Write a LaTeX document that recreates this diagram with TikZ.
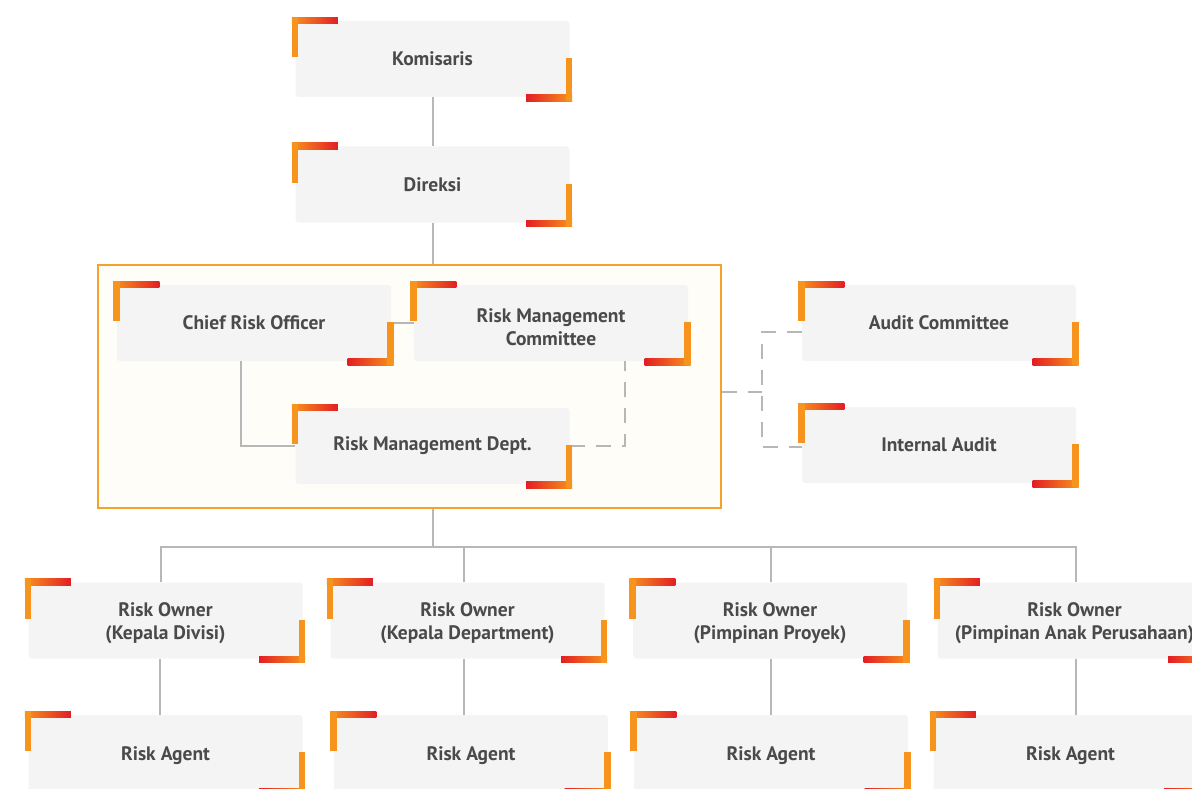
\documentclass[tikz,border=0pt]{standalone}
\usepackage{fontspec}
\setmainfont{PT Sans}
\definecolor{cOrange}{HTML}{F7941D}
\definecolor{cRed}{HTML}{E31E24}
\definecolor{boxGray}{HTML}{F4F4F4}
\definecolor{txtGray}{HTML}{4A4A4A}
\definecolor{lineGray}{HTML}{B7B7B7}
\definecolor{panelLine}{HTML}{F5A22A}
\definecolor{panelFill}{HTML}{FFFDF8}

\newcommand{\corners}[1]{%
  \shade[left color=cOrange, right color=cRed] ([shift={(-3.5,-3.5)}]#1.north west) rectangle ++(46,6.5);
  \fill[cOrange] ([shift={(-3.5,-3.5)}]#1.north west) rectangle ++(6.5,40);
  \shade[left color=cRed, right color=cOrange] ([shift={(2.5,4)}]#1.south east) rectangle ++(-46,-6.5);
  \fill[cOrange] ([shift={(2.5,4)}]#1.south east) rectangle ++(-6.5,-43);
}
\newcommand{\dropText}[2]{\raisebox{-#1pt}[\height][\depth]{\begin{tabular}{@{}c@{}}#2\end{tabular}}}

\begin{document}
\begin{tikzpicture}[x=1pt,y=-1pt,
  box/.style={rectangle, rounded corners=3pt, fill=boxGray, minimum width=274, minimum height=76,
    inner sep=0pt, align=center, text=txtGray, font=\bfseries\fontsize{19.5}{23}\selectfont},
  link/.style={draw=lineGray, line width=2pt},
  dline/.style={link, dash pattern=on 15pt off 11pt}]
\useasboundingbox (0,0) rectangle (1192,789);
\clip (0,0) rectangle (1192,789);

\node[draw=panelLine, fill=panelFill, line width=2pt, minimum width=623, minimum height=243] (panel) at (409.5,386.5) {};

\node[box] (kom) at (432.5,59) {Komisaris};
\node[box] (dir) at (432.5,184.5) {Direksi};
\node[box] (cro) at (254,323) {Chief Risk Officer};
\node[box] (rmc) at (551,323) {\dropText{6}{Risk Management\\Committee}};
\node[box] (rmd) at (432.5,446) {Risk Management Dept.};
\node[box] (aud) at (939,323) {Audit Committee};
\node[box] (ia) at (939,445) {Internal Audit};

\foreach \i/\x/\txt in {1/165.5/{(Kepala Divisi)}, 2/467.5/{(Kepala Department)},
  3/770/{(Pimpinan Proyek)}, 4/1074.5/{(Pimpinan Anak Perusahaan)}}
{
    \node[box] (ro\i) at (\x,620.5) {\dropText{3}{Risk Owner\\\txt}};
}
\foreach \i/\x in {1/165.5, 2/471, 3/771, 4/1070.5}
{
    \node[box] (ra\i) at (\x,753) {\raisebox{-3pt}[\height][\depth]{Risk Agent}};
}

\draw[link] (kom) -- (dir);
\draw[link] (dir.south) -- (dir.south |- panel.north);
\draw[link] (cro) -- (rmc);
\draw[link] ([xshift=-13]cro.south) |- (rmd.west);
\draw[dline] (rmd.east) -| ([xshift=74]rmc.south);

\coordinate (split) at (762,392);
\draw[dline] (panel.east |- split) -- (split);
\draw[dline] ([yshift=-9]aud.west) -| (split) |- ([yshift=-2]ia.west);

\coordinate (bus) at (432.5,547);
\draw[link] (bus |- panel.south) -- (bus);
\draw[link] ([xshift=-5]ro1.north) |- (bus);
\draw[link] ([xshift=1.5]ro4.north) |- (bus);
\foreach \i/\dx in {2/-3.5, 3/1}
{
    \draw[link] ([xshift=\dx]ro\i.north) -- ([xshift=\dx]ro\i.north |- bus);
}
\foreach \i/\dx in {1/-5.5, 2/-3.5, 3/1, 4/1.5}
{
    \draw[link] ([xshift=\dx]ro\i.south) -- ([xshift=\dx]ro\i.south |- ra\i.north);
}

\foreach \n in {kom,dir,cro,rmc,rmd,aud,ia,ro1,ro2,ro3,ro4,ra1,ra2,ra3,ra4}
{
    \corners{\n}
}

\end{tikzpicture}
\end{document}
